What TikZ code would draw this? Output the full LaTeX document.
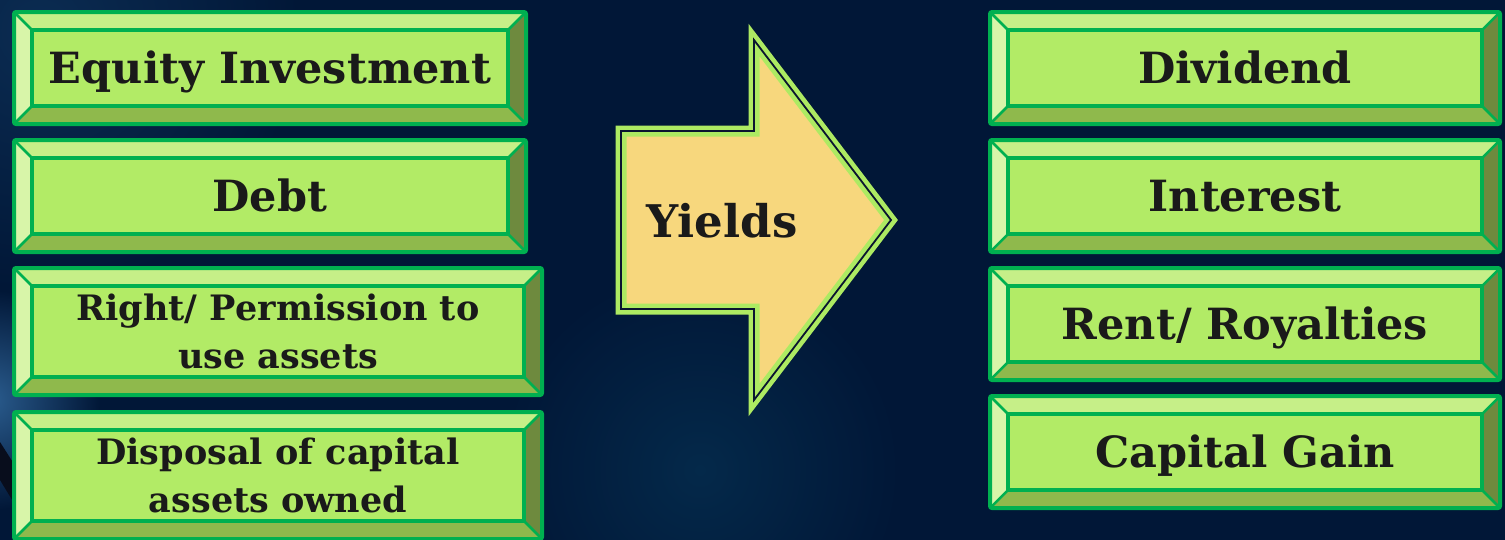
\documentclass[tikz,border=0pt]{standalone}
\usepackage{fontspec}
\setmainfont{DejaVu Serif}
\usetikzlibrary{calc}
\definecolor{bg}{HTML}{011737}
\definecolor{glowA}{HTML}{2A5C8E}
\definecolor{glowB}{HTML}{0B2C52}
\definecolor{glowC}{HTML}{04294A}
\definecolor{darkstroke}{HTML}{080D1C}
\definecolor{gstroke}{HTML}{00B050}
\definecolor{face}{HTML}{B2EB66}
\definecolor{bvtop}{HTML}{C6EF88}
\definecolor{bvleft}{HTML}{D8F5A9}
\definecolor{bvbottom}{HTML}{8FB94C}
\definecolor{bvright}{HTML}{6E8A3E}
\definecolor{arrowfill}{HTML}{F7D77D}
\definecolor{arrowgreen}{HTML}{ADEA62}
\definecolor{arrowdark}{HTML}{0A1530}
\definecolor{txt}{HTML}{1A1A1A}
\tikzset{
  gbox/.style={rectangle, rounded corners=2pt, draw=gstroke, line width=4pt,
    fill=face, inner sep=0pt, text=txt, align=center,
    path picture={
      \path (path picture bounding box.south west) coordinate (@sw)
            (path picture bounding box.north east) coordinate (@ne);
      \fill[bvtop, sharp corners] let \p1=(@sw), \p2=(@ne) in
        (\x1,\y2) -- (\x2,\y2) -- (\x2-18pt,\y2-18pt) -- (\x1+18pt,\y2-18pt) -- cycle;
      \fill[bvbottom, sharp corners] let \p1=(@sw), \p2=(@ne) in
        (\x1,\y1) -- (\x2,\y1) -- (\x2-18pt,\y1+18pt) -- (\x1+18pt,\y1+18pt) -- cycle;
      \fill[bvleft, sharp corners] let \p1=(@sw), \p2=(@ne) in
        (\x1,\y1) -- (\x1,\y2) -- (\x1+18pt,\y2-18pt) -- (\x1+18pt,\y1+18pt) -- cycle;
      \fill[bvright, sharp corners] let \p1=(@sw), \p2=(@ne) in
        (\x2,\y1) -- (\x2,\y2) -- (\x2-18pt,\y2-18pt) -- (\x2-18pt,\y1+18pt) -- cycle;
      \draw[gstroke, line width=2.5pt, sharp corners] let \p1=(@sw), \p2=(@ne) in
        (\x1,\y1) -- (\x1+18pt,\y1+18pt) (\x1,\y2) -- (\x1+18pt,\y2-18pt)
        (\x2,\y1) -- (\x2-18pt,\y1+18pt) (\x2,\y2) -- (\x2-18pt,\y2-18pt);
      \draw[gstroke, line width=4pt, sharp corners] let \p1=(@sw), \p2=(@ne) in
        (\x1+18pt,\y1+18pt) rectangle (\x2-18pt,\y2-18pt);
    }},
  onebox/.style={gbox, font=\fontsize{43}{50}\selectfont\bfseries, text height=31.5pt, text depth=0pt},
  twobox/.style={gbox, font=\fontsize{35}{48}\selectfont\bfseries},
  arrowshape/.style={fill=arrowfill, draw=arrowgreen, line width=11pt, line join=miter, miter limit=10},
  arrowline/.style={draw=arrowdark, line width=1.8pt, line join=miter, miter limit=10},
  yieldtext/.style={text=txt, font=\fontsize{45}{50}\selectfont\bfseries, text height=33pt, text depth=0pt, inner sep=0pt}
}
\begin{document}
\begin{tikzpicture}[x=1pt,y=-1pt]
\useasboundingbox (0,0) rectangle (1505,539);
\clip (0,0) rectangle (1505,539);
\fill[bg] (-5,-5) rectangle (1510,545);
\shade[inner color=glowB, outer color=bg] (40,30) circle (260);
\shade[inner color=glowC, outer color=bg] (700,470) circle (200);
\shade[inner color=glowA, outer color=bg] (-10,400) circle (110);
\fill[darkstroke] (0,442) -- (14,464) -- (14,503) -- (0,480) -- cycle;

% left column
\node[onebox, minimum width=512pt, minimum height=112pt] (equity) at (270,68) {Equity Investment};
\node[onebox, minimum width=512pt, minimum height=112pt] (debt) at (270,196) {Debt};
\node[twobox, minimum width=528pt, minimum height=127pt] (right) at (278,331.5) {Right/ Permission to\\use assets};
\node[twobox, minimum width=528pt, minimum height=127pt] (disposal) at (278,475.5) {Disposal of capital\\assets owned};

% right column
\node[onebox, minimum width=510pt, minimum height=112pt] (dividend) at (1245,68) {Dividend};
\node[onebox, minimum width=510pt, minimum height=112pt] (interest) at (1245,196) {Interest};
\node[onebox, minimum width=510pt, minimum height=112pt] (rent) at (1245,324) {Rent/ Royalties};
\node[onebox, minimum width=510pt, minimum height=112pt] (gain) at (1245,452) {Capital Gain};

% arrow
\path[arrowshape] (621,131) -- (754,131) -- (754,40) -- (891,220) -- (754,400) -- (754,309) -- (621,309) -- cycle;
\path[arrowline] (621,131) -- (754,131) -- (754,40) -- (891,220) -- (754,400) -- (754,309) -- (621,309) -- cycle;
\node[yieldtext] (yields) at (722,220.5) {Yields};
\end{tikzpicture}
\end{document}
